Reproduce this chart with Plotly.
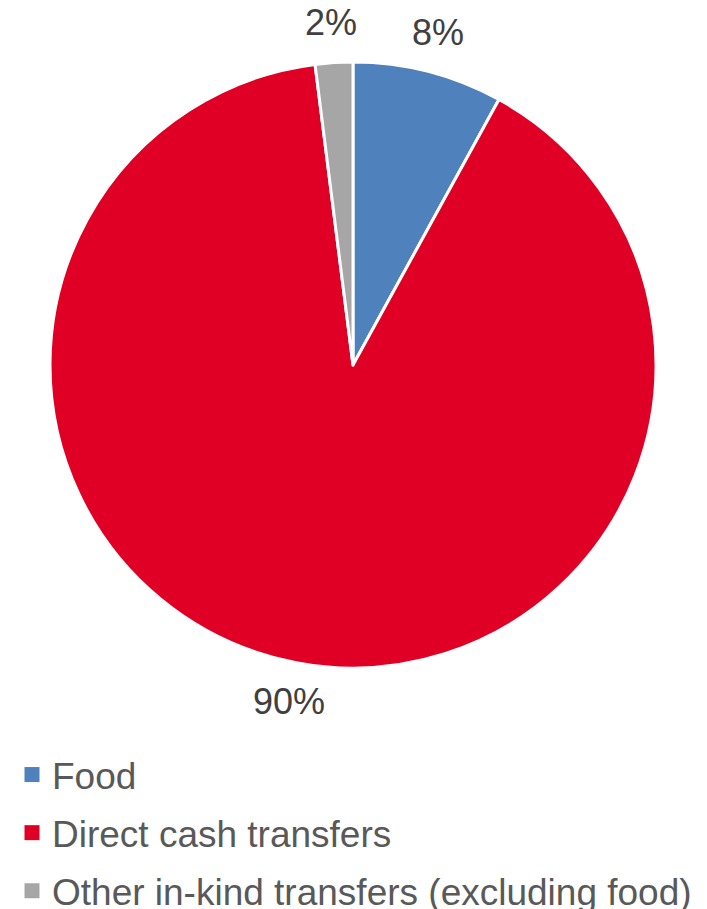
import math
import plotly.graph_objects as go

# Shares of transfer spending by type
categories = ["Food", "Direct cash transfers", "Other in-kind transfers (excluding food)"]
shares = [8, 90, 2]
colors = ["#4F81BD", "#E00025", "#A6A6A6"]

W, H = 707, 909
cx, cy, r = 353, 365, 303          # pie centre and radius in pixels
label_r = 343                      # distance of the percentage labels from the centre
FONT = "Liberation Sans, Arial, sans-serif"

fig = go.Figure()
fig.add_trace(
    go.Pie(
        labels=categories,
        values=shares,
        sort=False,
        direction="clockwise",
        rotation=0,
        marker=dict(colors=colors, line=dict(color="white", width=3)),
        textinfo="none",
        hoverinfo="label+percent",
        showlegend=False,
        domain=dict(x=[(cx - r) / W, (cx + r) / W], y=[1 - (cy + r) / H, 1 - (cy - r) / H]),
    )
)

# Legend entries: one square key per category, spaced via group gaps
for i, (name, col) in enumerate(zip(categories, colors)):
    fig.add_trace(
        go.Scatter(
            x=[None], y=[None], mode="markers", name=name,
            marker=dict(symbol="square", size=15, color=col),
            legendgroup=f"g{i}", showlegend=True, hoverinfo="skip",
        )
    )

# Percentage labels placed just outside each slice at its mid-angle
total = sum(shares)
start = 0.0
for v in shares:
    mid = (start + v / 2) / total * 2 * math.pi
    px = cx + label_r * math.sin(mid)
    py = cy - label_r * math.cos(mid)
    fig.add_annotation(
        x=px / W, y=1 - py / H, xref="paper", yref="paper",
        text=f"{v}%", showarrow=False,
        font=dict(family=FONT, size=36, color="#404040"),
        xanchor="center", yanchor="middle",
    )
    start += v

fig.update_layout(
    width=W, height=H,
    margin=dict(l=0, r=0, t=0, b=0, autoexpand=False),
    paper_bgcolor="white",
    plot_bgcolor="white",
    xaxis=dict(visible=False),
    yaxis=dict(visible=False),
    showlegend=True,
    legend=dict(
        x=12 / W, y=1 - 744 / H, xanchor="left", yanchor="top",
        orientation="v",
        tracegroupgap=7,
        font=dict(family=FONT, size=37, color="#595959"),
        bgcolor="rgba(0,0,0,0)",
    ),
)

fig.write_html("out.html")
